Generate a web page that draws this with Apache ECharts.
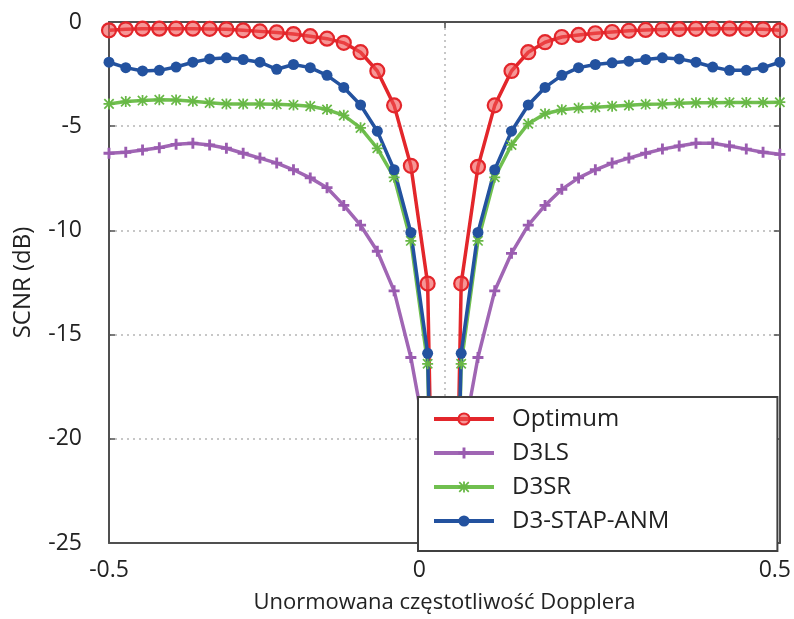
<!DOCTYPE html>
<html><head><meta charset="utf-8">
<script src="https://cdn.jsdelivr.net/npm/echarts@6/dist/echarts.min.js"></script>
<style>html,body{margin:0;padding:0;background:#fff}#c{width:794px;height:619px}</style>
</head><body><div id="c"></div>
<script>
const xValues = [-0.5,-0.475,-0.45,-0.425,-0.4,-0.375,-0.35,-0.325,-0.3,-0.275,-0.25,-0.225,-0.2,-0.175,-0.15,-0.125,-0.1,-0.075,-0.05,-0.025,0,0.025,0.05,0.075,0.1,0.125,0.15,0.175,0.2,0.225,0.25,0.275,0.3,0.325,0.35,0.375,0.4,0.425,0.45,0.475,0.5];
const optimum = [-0.40,-0.35,-0.32,-0.32,-0.32,-0.32,-0.33,-0.35,-0.40,-0.45,-0.50,-0.58,-0.68,-0.80,-1.00,-1.45,-2.35,-4.00,-6.90,-12.55,-54,-12.55,-6.95,-4.00,-2.35,-1.45,-0.97,-0.72,-0.62,-0.54,-0.48,-0.42,-0.38,-0.36,-0.34,-0.33,-0.32,-0.32,-0.33,-0.35,-0.40];
const d3ls = [-6.30,-6.25,-6.14,-6.03,-5.87,-5.82,-5.90,-6.06,-6.30,-6.53,-6.77,-7.09,-7.48,-7.95,-8.8,-9.75,-11.0,-12.9,-16.1,-20.5,-50,-20.5,-16.1,-12.9,-11.1,-9.75,-8.8,-8.03,-7.48,-7.09,-6.77,-6.53,-6.30,-6.10,-5.95,-5.82,-5.82,-5.95,-6.10,-6.25,-6.35];
const d3sr = [-3.93,-3.82,-3.77,-3.73,-3.74,-3.80,-3.88,-3.93,-3.93,-3.93,-3.95,-3.98,-4.04,-4.20,-4.48,-5.08,-6.06,-7.45,-10.5,-16.4,-50,-16.4,-10.5,-7.45,-5.90,-4.88,-4.40,-4.21,-4.13,-4.09,-4.04,-4.00,-3.95,-3.93,-3.90,-3.88,-3.87,-3.86,-3.86,-3.86,-3.85];
const d3stap = [-1.93,-2.19,-2.35,-2.32,-2.16,-1.93,-1.77,-1.72,-1.80,-1.93,-2.27,-2.04,-2.19,-2.56,-3.14,-3.98,-5.24,-7.09,-10.1,-15.9,-50,-15.9,-10.1,-7.09,-5.24,-3.98,-3.14,-2.56,-2.19,-2.04,-1.96,-1.88,-1.80,-1.72,-1.77,-1.93,-2.16,-2.32,-2.32,-2.19,-1.93];
const seriesNames = ['Optimum','D3LS','D3SR','D3-STAP-ANM'];
const yTicks = {min:-25, max:0, step:5};
const xTicks = {min:-0.5, max:0.5, step:0.5};

const FONT = '"Open Sans", "Noto Sans", sans-serif';
const TXT = '#222';
const AX = '#505050';
const plusPath = 'path://M3.7,0H6.3V3.7H10V6.3H6.3V10H3.7V6.3H0V3.7H3.7Z';
const starPath = 'path://M4.2,0h1.6v10h-1.6z M0,4.2h10v1.6h-10z M1.3,0.2L9.8,8.7L8.7,9.8L0.2,1.3Z M8.7,0.2L9.8,1.3L1.3,9.8L0.2,8.7Z';

function pts(arr){ return xValues.map((x,i)=>[x, arr[i]]); }

const chart = echarts.init(document.getElementById('c'), null, {renderer:'canvas'});
const axisCommon = {
  axisLine:{show:true, onZero:false, lineStyle:{color:AX, width:2}},
  axisTick:{show:true, inside:true, length:6, lineStyle:{color:AX, width:1.5}}
};
chart.setOption({
  animation:false,
  backgroundColor:'#fff',
  grid:{left:109, right:14, top:22, bottom:69, containLabel:false},
  xAxis:[
    Object.assign({type:'value', min:xTicks.min, max:xTicks.max, interval:xTicks.step, position:'bottom',
      name:'Unormowana częstotliwość Dopplera', nameLocation:'middle', nameGap:49,
      nameTextStyle:{fontFamily:FONT, fontSize:22, color:TXT},
      axisLabel:{margin:16, fontFamily:FONT, fontSize:23, color:TXT,
        formatter:v=> v===0 ? '{z|0}' : (v===0.5 ? '{r|0.5}' : String(v)),
        rich:{z:{fontFamily:FONT, fontSize:23, color:TXT, padding:[0,50,0,0]}, r:{fontFamily:FONT, fontSize:23, color:TXT, padding:[0,10,0,0]}}},
      splitLine:{show:true, lineStyle:{type:[2,4], color:'#b5b5b5', width:1.5}}
    }, axisCommon),
    Object.assign({type:'value', min:xTicks.min, max:xTicks.max, interval:xTicks.step, position:'top',
      axisLabel:{show:false}, splitLine:{show:false}}, axisCommon)
  ],
  yAxis:[
    Object.assign({type:'value', min:yTicks.min, max:yTicks.max, interval:yTicks.step, position:'left',
      name:'SCNR (dB)', nameLocation:'middle', nameGap:74, nameRotate:90,
      nameTextStyle:{fontFamily:FONT, fontSize:24, color:TXT},
      axisLabel:{margin:27, fontFamily:FONT, fontSize:23, color:TXT},
      splitLine:{show:true, lineStyle:{type:[2,4], color:'#b5b5b5', width:1.5}}
    }, axisCommon),
    Object.assign({type:'value', min:yTicks.min, max:yTicks.max, interval:yTicks.step, position:'right',
      axisLabel:{show:false}, splitLine:{show:false}}, axisCommon)
  ],
  legend:{
    orient:'vertical', left:418, top:397,
    itemWidth:60, itemHeight:14, itemGap:10,
    padding:[10,108,18,14],
    backgroundColor:'#fff', borderColor:'#404040', borderWidth:2,
    lineStyle:{width:4},
    textStyle:{fontFamily:FONT, fontSize:24, lineHeight:24, color:TXT, padding:[0,0,0,13]},
    data:seriesNames
  },
  series:[
    {name:seriesNames[0], type:'line', data:pts(optimum), symbol:'circle', symbolSize:14,
      lineStyle:{color:'#e3262b', width:3.5}, itemStyle:{color:'rgba(240,80,80,0.6)', borderColor:'#e3262b', borderWidth:2.2}},
    {name:seriesNames[1], type:'line', data:pts(d3ls), symbol:plusPath, symbolSize:11,
      lineStyle:{color:'#a066b4', width:3.5}, itemStyle:{color:'#9a5cb0'}},
    {name:seriesNames[2], type:'line', data:pts(d3sr), symbol:starPath, symbolSize:11,
      lineStyle:{color:'#70bf4f', width:3.5}, itemStyle:{color:'#68b846'}},
    {name:seriesNames[3], type:'line', data:pts(d3stap), symbol:'circle', symbolSize:11,
      lineStyle:{color:'#23529f', width:3.5}, itemStyle:{color:'#23529f'}}
  ]
});
</script></body></html>
